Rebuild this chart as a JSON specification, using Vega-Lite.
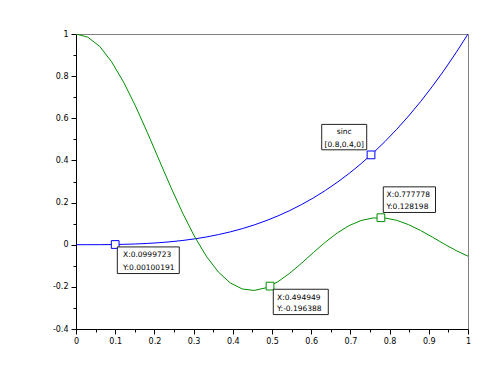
{
  "$schema": "https://vega.github.io/schema/vega-lite/v6.json",
  "width": 392,
  "height": 295,
  "autosize": {"type": "none"},
  "padding": {"left": 76, "top": 34, "right": 32, "bottom": 40},
  "background": "white",
  "config": {
    "view": {"stroke": "#808080", "strokeWidth": 1},
    "font": "DejaVu Sans"
  },
  "datasets": {
    "curves": [
      {"x": 0, "y": 0, "s": "cube"}, {"x": 0.030303, "y": 0.0000278, "s": "cube"}, {"x": 0.060606, "y": 0.000223, "s": "cube"}, {"x": 0.090909, "y": 0.000751, "s": "cube"}, {"x": 0.121212, "y": 0.001781, "s": "cube"}, {"x": 0.151515, "y": 0.003478, "s": "cube"}, {"x": 0.181818, "y": 0.006011, "s": "cube"}, {"x": 0.212121, "y": 0.009545, "s": "cube"}, {"x": 0.242424, "y": 0.014247, "s": "cube"}, {"x": 0.272727, "y": 0.020285, "s": "cube"}, {"x": 0.30303, "y": 0.027826, "s": "cube"}, {"x": 0.333333, "y": 0.037037, "s": "cube"}, {"x": 0.363636, "y": 0.048084, "s": "cube"}, {"x": 0.393939, "y": 0.061135, "s": "cube"}, {"x": 0.424242, "y": 0.076354, "s": "cube"}, {"x": 0.454545, "y": 0.093914, "s": "cube"}, {"x": 0.484848, "y": 0.113977, "s": "cube"}, {"x": 0.515152, "y": 0.136713, "s": "cube"}, {"x": 0.545455, "y": 0.162284, "s": "cube"}, {"x": 0.575758, "y": 0.190858, "s": "cube"}, {"x": 0.606061, "y": 0.222608, "s": "cube"}, {"x": 0.636364, "y": 0.257701, "s": "cube"}, {"x": 0.666667, "y": 0.296296, "s": "cube"}, {"x": 0.69697, "y": 0.338559, "s": "cube"}, {"x": 0.727273, "y": 0.384673, "s": "cube"}, {"x": 0.757576, "y": 0.434789, "s": "cube"}, {"x": 0.787879, "y": 0.489086, "s": "cube"}, {"x": 0.818182, "y": 0.547708, "s": "cube"}, {"x": 0.848485, "y": 0.610843, "s": "cube"}, {"x": 0.878788, "y": 0.678652, "s": "cube"}, {"x": 0.909091, "y": 0.751315, "s": "cube"}, {"x": 0.939394, "y": 0.828978, "s": "cube"}, {"x": 0.969697, "y": 0.911806, "s": "cube"}, {"x": 1, "y": 1, "s": "cube"},
      {"x": 0, "y": 1, "s": "sinc"}, {"x": 0.030303, "y": 0.98476, "s": "sinc"}, {"x": 0.060606, "y": 0.9409, "s": "sinc"}, {"x": 0.090909, "y": 0.86784, "s": "sinc"}, {"x": 0.121212, "y": 0.7725, "s": "sinc"}, {"x": 0.151515, "y": 0.65898, "s": "sinc"}, {"x": 0.181818, "y": 0.53326, "s": "sinc"}, {"x": 0.212121, "y": 0.4018, "s": "sinc"}, {"x": 0.242424, "y": 0.27117, "s": "sinc"}, {"x": 0.272727, "y": 0.14761, "s": "sinc"}, {"x": 0.30303, "y": 0.03665, "s": "sinc"}, {"x": 0.333333, "y": -0.05717, "s": "sinc"}, {"x": 0.363636, "y": -0.13058, "s": "sinc"}, {"x": 0.393939, "y": -0.18171, "s": "sinc"}, {"x": 0.424242, "y": -0.21016, "s": "sinc"}, {"x": 0.454545, "y": -0.21694, "s": "sinc"}, {"x": 0.484848, "y": -0.20435, "s": "sinc"}, {"x": 0.515152, "y": -0.1757, "s": "sinc"}, {"x": 0.545455, "y": -0.13512, "s": "sinc"}, {"x": 0.575758, "y": -0.08714, "s": "sinc"}, {"x": 0.606061, "y": -0.03642, "s": "sinc"}, {"x": 0.636364, "y": 0.01263, "s": "sinc"}, {"x": 0.666667, "y": 0.05612, "s": "sinc"}, {"x": 0.69697, "y": 0.09094, "s": "sinc"}, {"x": 0.727273, "y": 0.11492, "s": "sinc"}, {"x": 0.757576, "y": 0.12692, "s": "sinc"}, {"x": 0.787879, "y": 0.12688, "s": "sinc"}, {"x": 0.818182, "y": 0.11571, "s": "sinc"}, {"x": 0.848485, "y": 0.09517, "s": "sinc"}, {"x": 0.878788, "y": 0.06767, "s": "sinc"}, {"x": 0.909091, "y": 0.03605, "s": "sinc"}, {"x": 0.939394, "y": 0.00328, "s": "sinc"}, {"x": 0.969697, "y": -0.02772, "s": "sinc"}, {"x": 1, "y": -0.0544, "s": "sinc"}
    ],
    "markers": [
      {"x": 0.0999723, "y": 0.00100191, "s": "cube"},
      {"x": 0.7526, "y": 0.4263, "s": "cube"},
      {"x": 0.494949, "y": -0.196388, "s": "sinc"},
      {"x": 0.777778, "y": 0.128198, "s": "sinc"}
    ],
    "boxes": [
      {"x": 0.6268, "x2": 0.7416, "y": 0.571, "y2": 0.4504},
      {"x": 0.1054, "x2": 0.2635, "y": -0.0105, "y2": -0.1368},
      {"x": 0.5033, "x2": 0.6436, "y": -0.2114, "y2": -0.3316},
      {"x": 0.7839, "x2": 0.9171, "y": 0.2746, "y2": 0.153}
    ],
    "labelsLeft": [
      {"x": 0.1199, "y": -0.0499, "t": "X:0.0999723"},
      {"x": 0.1199, "y": -0.1083, "t": "Y:0.00100191"},
      {"x": 0.5128, "y": -0.2527, "t": "X:0.494949"},
      {"x": 0.5128, "y": -0.3064, "t": "Y:-0.196388"},
      {"x": 0.7921, "y": 0.2352, "t": "X:0.777778"},
      {"x": 0.7921, "y": 0.1796, "t": "Y:0.128198"}
    ],
    "labelsCenter": [
      {"x": 0.6842, "y": 0.5359, "t": "sinc"},
      {"x": 0.6842, "y": 0.4741, "t": "[0.8,0.4,0]"}
    ]
  },
  "encoding": {
    "x": {
      "field": "x", "type": "quantitative",
      "scale": {"domain": [0, 1], "nice": false, "zero": false},
      "axis": {
        "title": null, "grid": false,
        "values": [0, 0.05, 0.1, 0.15, 0.2, 0.25, 0.3, 0.35, 0.4, 0.45, 0.5, 0.55, 0.6, 0.65, 0.7, 0.75, 0.8, 0.85, 0.9, 0.95, 1],
        "labelExpr": "abs(datum.value*10 - round(datum.value*10)) < 0.001 ? '' + round(datum.value*10)/10 : ''",
        "domainColor": "black", "tickColor": "black", "labelColor": "black",
        "labelFontSize": 8, "labelPadding": 3, "labelFont": "DejaVu Sans",
        "tickSize": {"condition": {"test": "abs(datum.value*10 - round(datum.value*10)) < 0.001", "value": 5}, "value": 3},
        "labelFlush": false, "labelOverlap": false
      }
    },
    "y": {
      "field": "y", "type": "quantitative",
      "scale": {"domain": [-0.4, 1], "nice": false, "zero": false},
      "axis": {
        "title": null, "grid": false,
        "values": [-0.4, -0.3, -0.2, -0.1, 0, 0.1, 0.2, 0.3, 0.4, 0.5, 0.6, 0.7, 0.8, 0.9, 1],
        "labelExpr": "abs(datum.value*5 - round(datum.value*5)) < 0.001 ? '' + round(datum.value*10)/10 : ''",
        "domainColor": "black", "tickColor": "black", "labelColor": "black",
        "labelFontSize": 8, "labelPadding": 3, "labelFont": "DejaVu Sans",
        "tickSize": {"condition": {"test": "abs(datum.value*5 - round(datum.value*5)) < 0.001", "value": 5}, "value": 3},
        "labelFlush": false, "labelOverlap": false
      }
    }
  },
  "layer": [
    {
      "data": {"name": "curves"},
      "mark": {"type": "line", "strokeWidth": 1, "clip": true},
      "encoding": {
        "color": {
          "field": "s", "type": "nominal",
          "scale": {"domain": ["cube", "sinc"], "range": ["#0000ff", "#009000"]},
          "legend": null
        },
        "detail": {"field": "s"}
      }
    },
    {
      "data": {"name": "markers"},
      "mark": {"type": "point", "shape": "square", "size": 60, "filled": false, "fill": "white", "fillOpacity": 1, "strokeWidth": 1, "opacity": 1},
      "encoding": {
        "stroke": {"field": "s", "type": "nominal", "scale": {"domain": ["cube", "sinc"], "range": ["#0000ff", "#009000"]}, "legend": null}
      }
    },
    {
      "data": {"name": "boxes"},
      "mark": {"type": "rect", "fill": "white", "stroke": "#222222", "strokeWidth": 1},
      "encoding": {
        "x2": {"field": "x2"},
        "y2": {"field": "y2"}
      }
    },
    {
      "data": {"name": "labelsLeft"},
      "mark": {"type": "text", "align": "left", "baseline": "middle", "fontSize": 7.5, "font": "DejaVu Sans", "color": "black"},
      "encoding": {
        "text": {"field": "t"}
      }
    },
    {
      "data": {"name": "labelsCenter"},
      "mark": {"type": "text", "align": "center", "baseline": "middle", "fontSize": 7.5, "font": "DejaVu Sans", "color": "black"},
      "encoding": {
        "text": {"field": "t"}
      }
    }
  ]
}
